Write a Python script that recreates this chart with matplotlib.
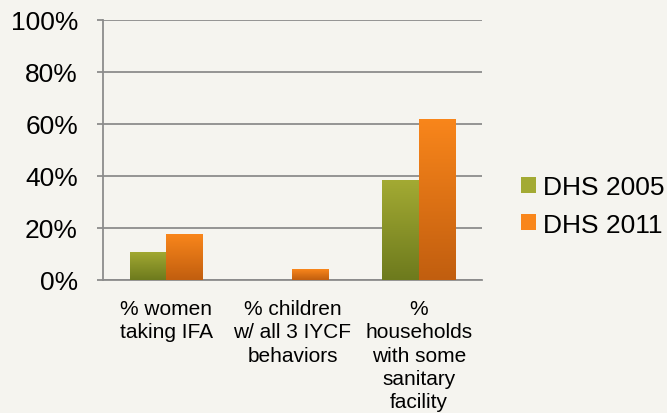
import numpy as np
import matplotlib.pyplot as plt
from matplotlib.patches import Patch
from matplotlib.colors import LinearSegmentedColormap

categories = ["% women\ntaking IFA",
              "% children\nw/ all 3 IYCF\nbehaviors",
              "%\nhouseholds\nwith some\nsanitary\nfacility"]
dhs2005 = [10.8, 0.0, 38.4]
dhs2011 = [17.6, 4.2, 62.0]
series_names = ["DHS 2005", "DHS 2011"]

bg = "#F5F4EF"
grid_col = "#8C8C8C"
# top / bottom colours of the gradient fills
green = ("#A3AA33", "#6D7A1D")
orange = ("#F9861B", "#C15E0F")

plt.rcParams['font.family'] = ['Liberation Sans', 'DejaVu Sans']

fig = plt.figure(figsize=(6.67, 4.14), dpi=100, facecolor=bg)
ax = fig.add_axes([0.1544, 0.3213, 0.7226 - 0.1544, 0.9493 - 0.3213])
ax.set_facecolor(bg)

x = np.arange(len(categories))
w = 0.29
bars_a = ax.bar(x - w / 2, dhs2005, w, color=green[1], zorder=3)
bars_b = ax.bar(x + w / 2, dhs2011, w, color=orange[1], zorder=3)

# vertical gradient inside each bar
grad = np.linspace(1, 0, 256).reshape(-1, 1)
for bars, cols in ((bars_a, green), (bars_b, orange)):
    cmap = LinearSegmentedColormap.from_list("g", [cols[1], cols[0]])
    for b in bars:
        h = b.get_height()
        if h <= 0:
            continue
        x0 = b.get_x()
        im = ax.imshow(grad, cmap=cmap, aspect='auto', zorder=4,
                       extent=[x0, x0 + b.get_width(), 0, h], vmin=0, vmax=1)
        im.set_clip_path(b)

ax.set_xlim(-0.5, len(categories) - 0.5)
ax.set_ylim(0, 100)
ax.set_yticks(np.arange(0, 101, 20))
ax.set_yticklabels([f"{v}%" for v in range(0, 101, 20)], fontsize=19)
ax.set_xticks(x)
ax.set_xticklabels(categories, fontsize=15, linespacing=1.27, va='top')
ax.tick_params(axis='x', length=0, pad=14)
ax.tick_params(axis='y', length=4, width=1.3, color=grid_col, pad=14)
ax.yaxis.grid(True, color=grid_col, linewidth=1.3, zorder=0)
ax.set_axisbelow(True)

for s in ['top', 'right']:
    ax.spines[s].set_visible(False)
for s in ['left', 'bottom']:
    ax.spines[s].set_color(grid_col)
    ax.spines[s].set_linewidth(1.3)

handles = [Patch(facecolor=green[0], edgecolor='none'),
           Patch(facecolor=orange[0], edgecolor='none')]
fig.legend(handles, series_names, loc='center left',
           bbox_to_anchor=(521 / 667, 1 - 207 / 414), frameon=False,
           fontsize=19, handlelength=0.55, handleheight=0.55,
           handletextpad=0.3, labelspacing=0.5, borderpad=0, borderaxespad=0)

fig.savefig("out.png", dpi=100, facecolor=bg)
